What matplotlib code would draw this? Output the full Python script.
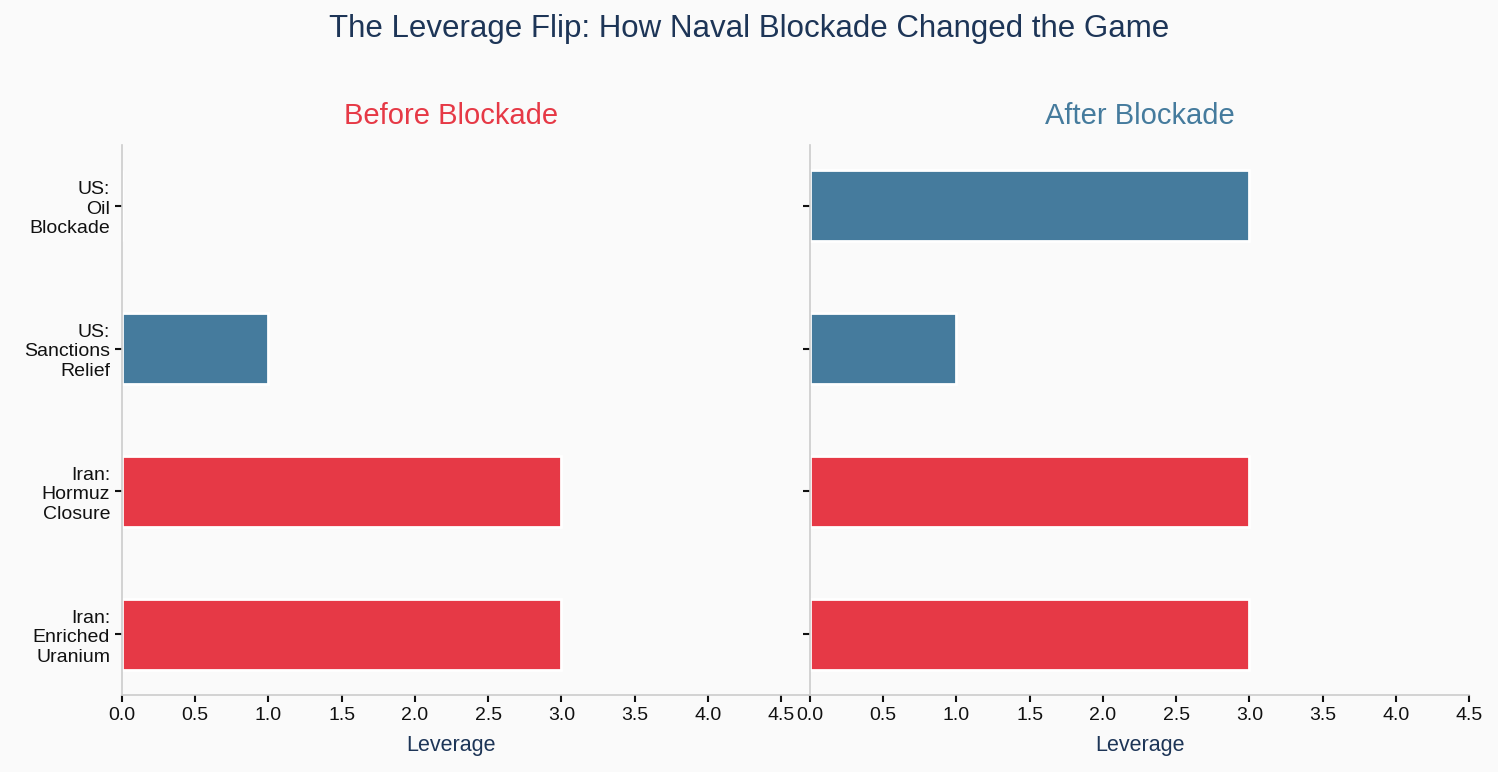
import matplotlib
matplotlib.use("Agg")
import matplotlib.pyplot as plt
import numpy as np

# leverage cards, bottom to top
cards = ["Iran:\nEnriched\nUranium", "Iran:\nHormuz\nClosure", "US:\nSanctions\nRelief", "US:\nOil\nBlockade"]
owner = ["Iran", "Iran", "US", "US"]
before = [3, 3, 1, 0]
after = [3, 3, 1, 3]
xticks = [0.0, 0.5, 1.0, 1.5, 2.0, 2.5, 3.0, 3.5, 4.0, 4.5]

red = "#e63946"
blue = "#457b9d"
navy = "#1d3557"
bg = "#fafafa"

plt.rcParams["font.family"] = ["Liberation Sans", "DejaVu Sans"]

fig = plt.figure(figsize=(14.98, 7.72), dpi=100, facecolor=bg)
ax1 = fig.add_axes([0.0814, 0.0997, 0.44, 0.7125])
ax2 = fig.add_axes([0.5407, 0.0997, 0.44, 0.7125], sharey=ax1)

colors = [red if o == "Iran" else blue for o in owner]
y = np.arange(len(cards))

for ax, vals, name, tcol in [(ax1, before, "Before Blockade", red), (ax2, after, "After Blockade", blue)]:
    ax.set_facecolor(bg)
    ax.barh(y, vals, height=0.5, color=colors, edgecolor="white", linewidth=2)
    ax.set_xlim(0, 4.5)
    ax.set_xticks(xticks)
    ax.set_xticklabels(["%.1f" % t for t in xticks])
    ax.set_xlabel("Leverage", fontsize=15.5, color=navy, labelpad=8)
    ax.set_title(name, fontsize=21, color=tcol, pad=15)
    for s in ["top", "right"]:
        ax.spines[s].set_visible(False)
    for s in ["left", "bottom"]:
        ax.spines[s].set_color("#cccccc")
        ax.spines[s].set_linewidth(1.2)
    ax.tick_params(axis="both", labelsize=14, colors="#111111", length=5, width=1.5)

ax1.set_yticks(y)
ax1.set_yticklabels(cards, linespacing=1.2)
ax2.tick_params(axis="y", labelleft=False)
# bottom line runs on to the next panel
ax1.spines["bottom"].set_bounds(0, 4.7)

fig.suptitle("The Leverage Flip: How Naval Blockade Changed the Game", fontsize=22.5, color=navy, y=0.982)

plt.savefig("out.png", dpi=100, facecolor=bg)
